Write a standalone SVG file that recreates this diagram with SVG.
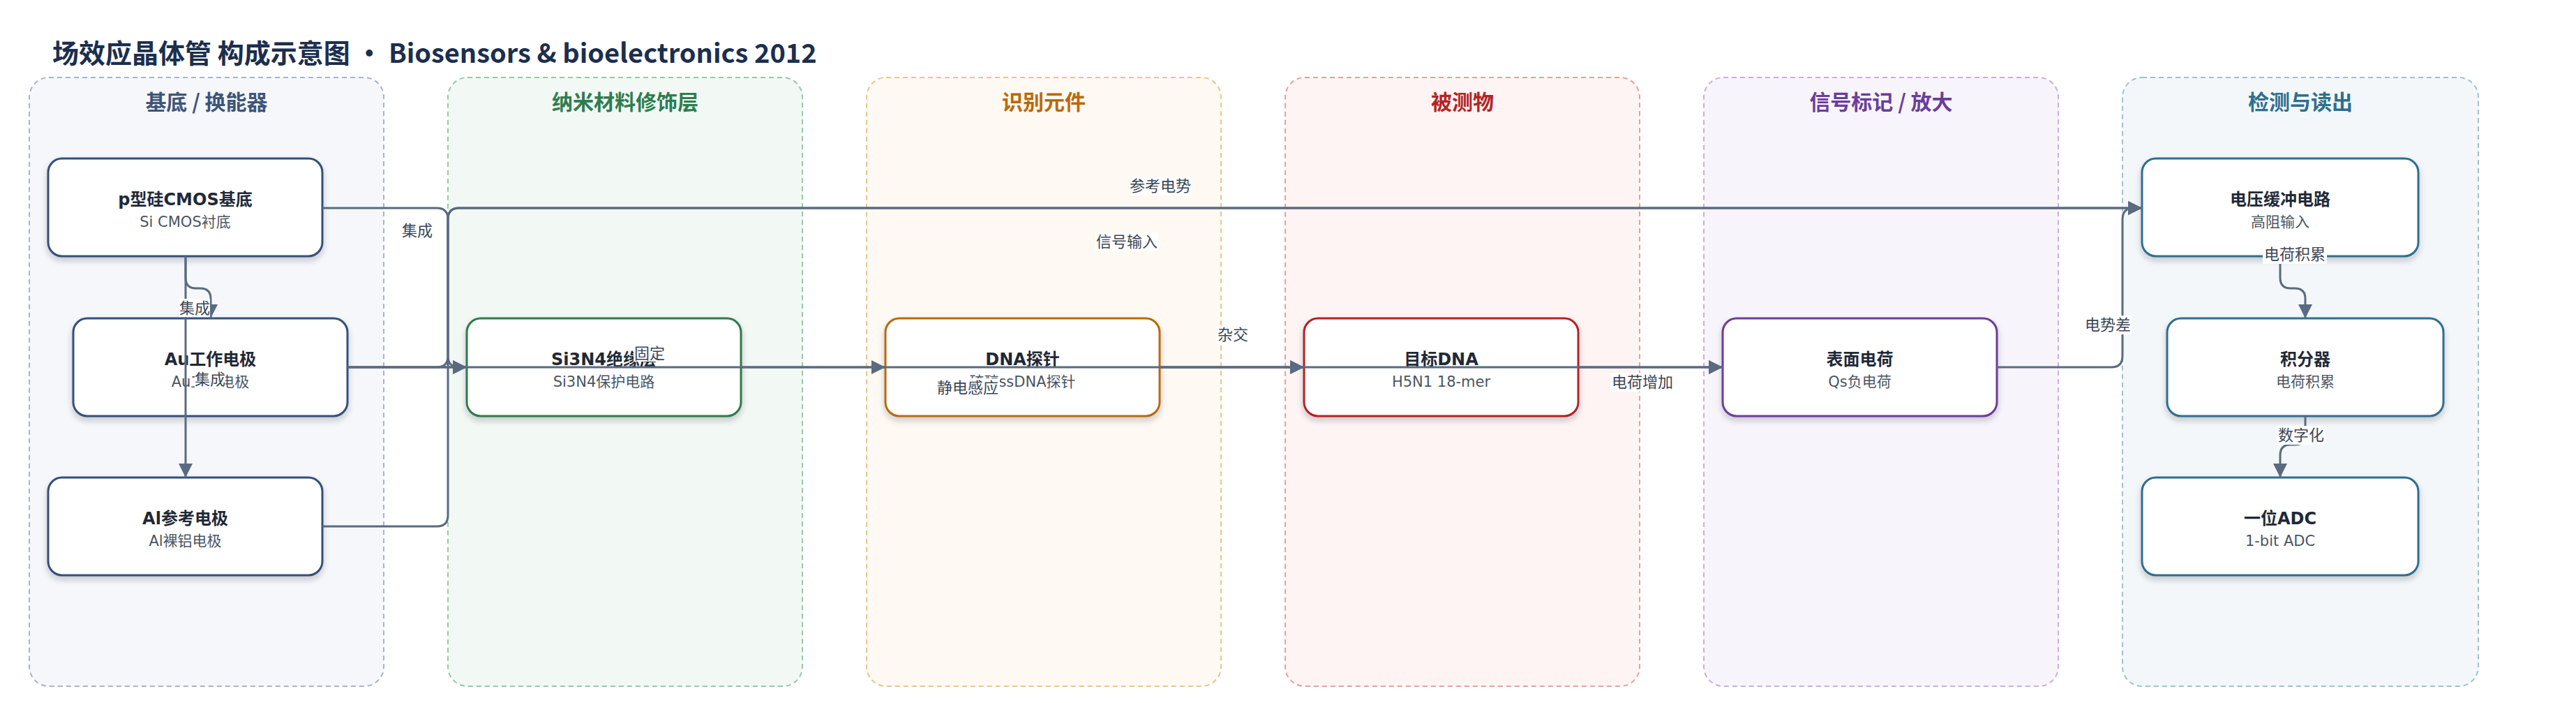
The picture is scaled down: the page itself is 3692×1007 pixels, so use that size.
<svg xmlns="http://www.w3.org/2000/svg" width="3692" height="1007" viewBox="0 0 3692 1007">
<defs>
<marker id="arr" markerUnits="userSpaceOnUse" markerWidth="22" markerHeight="22" refX="20" refY="10" orient="auto" viewBox="0 0 22 22">
<path d="M0,0 L20,10 L0,20 z" fill="#5a6a80"/>
</marker>
<filter id="sh" x="-10%" y="-20%" width="120%" height="150%">
<feDropShadow dx="0" dy="5" stdDeviation="4" flood-color="#1f2937" flood-opacity="0.22"/>
</filter>
<style>
.title{font-family:"Noto Sans CJK SC","Noto Sans",sans-serif;font-weight:700;font-size:38px;fill:#1b2f4e}
.ct{font-family:"Noto Sans CJK SC","Noto Sans",sans-serif;font-weight:700;font-size:30px;text-anchor:middle}
.cl{stroke-width:2;stroke-dasharray:7 5}
.nd{fill:#ffffff;stroke-width:3;filter:url(#sh)}
.nt{font-family:"DejaVu Sans","Noto Sans CJK SC",sans-serif;font-weight:700;font-size:24px;fill:#1f2937;text-anchor:middle}
.ns{font-family:"DejaVu Sans","Noto Sans CJK SC",sans-serif;font-size:21px;fill:#4b5563;text-anchor:middle}
.e{fill:none;stroke:#5a6a80;stroke-width:3;marker-end:url(#arr)}
.lb{fill:#ffffff}
.el{font-family:"Noto Sans CJK SC","Noto Sans",sans-serif;font-size:22px;fill:#3b4657;text-anchor:middle}
</style>
</defs>
<rect width="3692" height="1007" fill="#ffffff"/>
<text class="title" x="75" y="90">场效应晶体管 构成示意图 · Biosensors &amp; bioelectronics 2012</text>

<g id="clusters">
<g id="cluster-substrate">
<rect class="cl" x="42" y="111" width="508" height="872" rx="28" fill="#f5f7fb" stroke="#a8b4c8"/>
<text class="ct" x="296" y="157" fill="#3e5579">基底 / 换能器</text>
</g>
<g id="cluster-nano">
<rect class="cl" x="642" y="111" width="508" height="872" rx="28" fill="#f2f8f4" stroke="#98c8a8"/>
<text class="ct" x="896" y="157" fill="#2e7d4f">纳米材料修饰层</text>
</g>
<g id="cluster-recog">
<rect class="cl" x="1242" y="111" width="508" height="872" rx="28" fill="#fef9f2" stroke="#eac48e"/>
<text class="ct" x="1496" y="157" fill="#b86a0a">识别元件</text>
</g>
<g id="cluster-analyte">
<rect class="cl" x="1842" y="111" width="508" height="872" rx="28" fill="#fdf4f3" stroke="#e6a0a0"/>
<text class="ct" x="2096" y="157" fill="#b32424">被测物</text>
</g>
<g id="cluster-signal">
<rect class="cl" x="2442" y="111" width="508" height="872" rx="28" fill="#f8f4fb" stroke="#c8aee0"/>
<text class="ct" x="2696" y="157" fill="#6a3d9a">信号标记 / 放大</text>
</g>
<g id="cluster-readout">
<rect class="cl" x="3042" y="111" width="510" height="872" rx="28" fill="#f3f7f9" stroke="#a0c0cf"/>
<text class="ct" x="3297" y="157" fill="#2e6e8e">检测与读出</text>
</g>
</g>

<g id="n-psi">
<rect class="nd" x="69" y="227" width="393" height="140" rx="20" stroke="#34507a"/>
<text class="nt" x="265.5" y="294">p型硅CMOS基底</text>
<text class="ns" x="265.5" y="325">Si CMOS衬底</text>
</g>
<g id="n-au">
<rect class="nd" x="105" y="456" width="393" height="140" rx="20" stroke="#34507a"/>
<text class="nt" x="301.5" y="523">Au工作电极</text>
<text class="ns" x="301.5" y="554">Au工作电极</text>
</g>
<g id="n-al">
<rect class="nd" x="69" y="684" width="393" height="140" rx="20" stroke="#34507a"/>
<text class="nt" x="265.5" y="751">Al参考电极</text>
<text class="ns" x="265.5" y="782">Al裸铝电极</text>
</g>
<g id="n-si3n4">
<rect class="nd" x="669" y="456" width="393" height="140" rx="20" stroke="#2f7a4c"/>
<text class="nt" x="865.5" y="523">Si3N4绝缘层</text>
<text class="ns" x="865.5" y="554">Si3N4保护电路</text>
</g>
<g id="n-probe">
<rect class="nd" x="1269" y="456" width="393" height="140" rx="20" stroke="#b86a0a"/>
<text class="nt" x="1465.5" y="523">DNA探针</text>
<text class="ns" x="1465.5" y="554">硫醇ssDNA探针</text>
</g>
<g id="n-target">
<rect class="nd" x="1869" y="456" width="393" height="140" rx="20" stroke="#b32424"/>
<text class="nt" x="2065.5" y="523">目标DNA</text>
<text class="ns" x="2065.5" y="554">H5N1 18-mer</text>
</g>
<g id="n-charge">
<rect class="nd" x="2469" y="456" width="393" height="140" rx="20" stroke="#6a3d9a"/>
<text class="nt" x="2665.5" y="523">表面电荷</text>
<text class="ns" x="2665.5" y="554">Qs负电荷</text>
</g>
<g id="n-buffer">
<rect class="nd" x="3070" y="227" width="396" height="140" rx="20" stroke="#2e6e8e"/>
<text class="nt" x="3268" y="294">电压缓冲电路</text>
<text class="ns" x="3268" y="325">高阻输入</text>
</g>
<g id="n-integrator">
<rect class="nd" x="3106" y="456" width="396" height="140" rx="20" stroke="#2e6e8e"/>
<text class="nt" x="3304" y="523">积分器</text>
<text class="ns" x="3304" y="554">电荷积累</text>
</g>
<g id="n-adc">
<rect class="nd" x="3070" y="684" width="396" height="140" rx="20" stroke="#2e6e8e"/>
<text class="nt" x="3268" y="751">一位ADC</text>
<text class="ns" x="3268" y="782">1-bit ADC</text>
</g>

<g id="connectors">
<path class="e" d="M266,367 V398 Q266,413 281,413 H287 Q302,413 302,428 V456"/>
<path class="e" d="M266,367 V684"/>
<path class="e" d="M462,298 H626 Q642,298 642,314 V510 Q642,526 658,526 H669"/>
<path class="e" d="M498,526 H669"/>
<path class="e" d="M498,526 H1269"/>
<path class="e" d="M1062,526 H1869"/>
<path class="e" d="M1662,526 H1869"/>
<path class="e" d="M1662,526 H2469"/>
<path class="e" d="M2262,526 H2469"/>
<path class="e" d="M498,526 H626 Q642,526 642,510 V314 Q642,298 658,298 H3070"/>
<path class="e" d="M462,754 H626 Q642,754 642,738 V314 Q642,298 658,298 H3070"/>
<path class="e" d="M2862,526 H3026 Q3042,526 3042,510 V314 Q3042,298 3058,298 H3070"/>
<path class="e" d="M3268,367 V398 Q3268,413 3283,413 H3289 Q3304,413 3304,428 V456"/>
<path class="e" d="M3304,596 V622 Q3304,637 3289,637 H3283 Q3268,637 3268,652 V684"/>

<rect class="lb" x="257" y="428" width="44" height="26"/>
<text class="el" x="279" y="449">集成</text>
<rect class="lb" x="279" y="530" width="44" height="26"/>
<text class="el" x="301" y="551">集成</text>
<text class="el" x="598" y="338">集成</text>
<rect class="lb" x="1570" y="333" width="90" height="27"/>
<text class="el" x="1615" y="354">信号输入</text>
<rect class="lb" x="1618" y="253" width="90" height="27"/>
<text class="el" x="1663" y="274">参考电势</text>
<rect class="lb" x="908" y="493" width="46" height="25"/>
<text class="el" x="931" y="514">固定</text>
<rect class="lb" x="1743" y="466" width="48" height="27"/>
<text class="el" x="1767" y="487">杂交</text>
<rect class="lb" x="1341" y="542" width="92" height="27"/>
<text class="el" x="1387" y="563">静电感应</text>
<rect class="lb" x="2308" y="534" width="92" height="27"/>
<text class="el" x="2354" y="555">电荷增加</text>
<rect class="lb" x="2987" y="452" width="68" height="27"/>
<text class="el" x="3021" y="473">电势差</text>
<rect class="lb" x="3243" y="351" width="92" height="27"/>
<text class="el" x="3289" y="372">电荷积累</text>
<rect class="lb" x="3264" y="610" width="68" height="27"/>
<text class="el" x="3298" y="631">数字化</text>
</g>
</svg>
